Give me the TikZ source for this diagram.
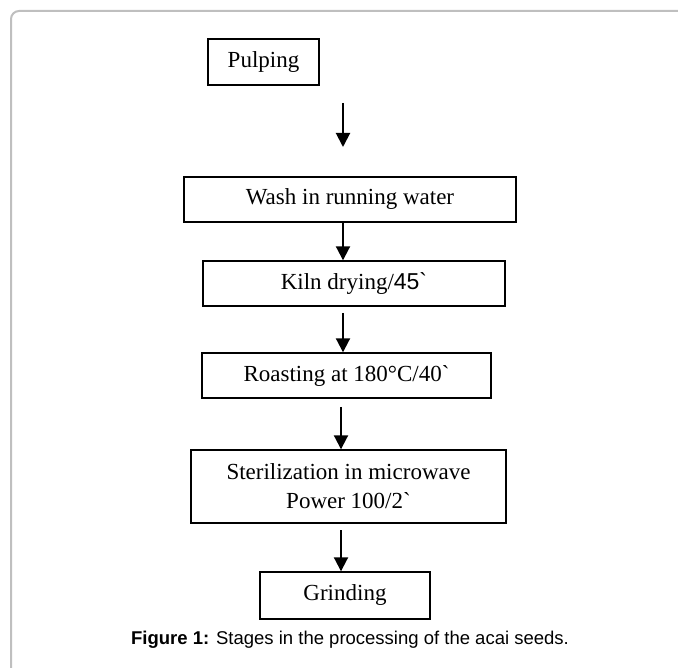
\documentclass[tikz,border=0pt]{standalone}
\usepackage{fontspec}
\setmainfont{Liberation Serif}
\newfontfamily\capfont{Liberation Sans}
\newfontfamily\gravefont{Liberation Serif}
\usetikzlibrary{arrows.meta}

\begin{document}
\begin{tikzpicture}[x=1pt, y=-1pt,
  stage/.style={draw, line width=1.4pt, inner sep=0pt, align=center, font=\fontsize{23}{29}\selectfont},
  flow/.style={line width=2pt, -{Triangle[width=14pt,length=14pt]}}]
\useasboundingbox (0,0) rectangle (678,668);
\draw[gray!50, line width=2pt, rounded corners=8pt] (11,668) -- (11,11) -- (678,11);
\node[stage, minimum width=111pt, minimum height=46pt] (1) at (263.5, 62) {Pulping};
\node[stage, minimum width=332pt, minimum height=45pt] (2) at (350, 199.5) {Wash in running water};
\node[stage, minimum width=302pt, minimum height=45pt] (3) at (354, 283.5) {Kiln drying/{\capfont 45\symbol{96}}};
\node[stage, minimum width=289pt, minimum height=45pt] (4) at (346.5, 375.5) {Roasting at 180°C/40{\gravefont\symbol{96}}};
\node[stage, minimum width=315pt, minimum height=73pt] (5) at (348.5, 486.5) {Sterilization in microwave\\Power 100/2{\gravefont\symbol{96}}};
\node[stage, minimum width=170pt, minimum height=47pt] (6) at (345, 595.5) {Grinding};
\node[anchor=base, font=\capfont\fontsize{18.5}{22}\selectfont] (7) at (350, 644) {\textbf{Figure 1:} Stages in the processing of the acai seeds.};
% free ends of the arrows
\coordinate (a1) at (343, 103);
\coordinate (b1) at (343, 147);
\coordinate (a3) at (343, 313);
\coordinate (a4) at (341, 407);
\coordinate (a5) at (341, 530);
\draw[flow] (a1) -- (b1);
\draw[flow] (2.south -| a1) -- (3.north -| a1);
\draw[flow] (a3) -- (4.north -| a3);
\draw[flow] (a4) -- (5.north -| a4);
\draw[flow] (a5) -- (6.north -| a5);
\end{tikzpicture}
\end{document}
